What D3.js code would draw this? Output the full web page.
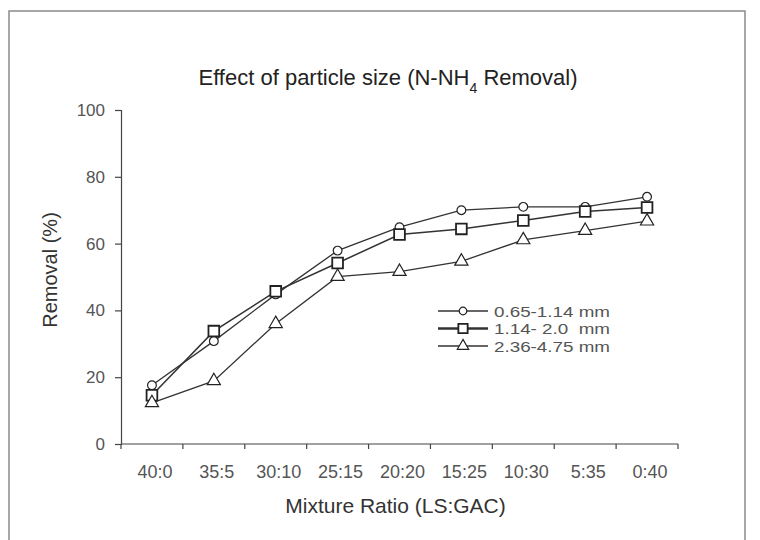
<!DOCTYPE html>
<html>
<head>
<meta charset="utf-8">
<script src="https://cdn.jsdelivr.net/npm/d3@7"></script>
<style>
  body { margin: 0; background: #fff; }
  #chart { width: 760px; height: 540px; }
  text { font-family: Arial, "Liberation Sans", sans-serif; }
</style>
</head>
<body>
<div id="chart"></div>
<script>
// Mixture ratios on the x axis
const ratios = ['40:0', '35:5', '30:10', '25:15', '20:20', '15:25', '10:30', '5:35', '0:40'];

// Removal (%) per particle size range
const fineValues   = [17.6, 30.8, 44.8, 57.9, 64.9, 70.0, 71.0, 71.0, 74.0];
const mediumValues = [14.6, 33.8, 45.7, 54.2, 62.7, 64.4, 66.9, 69.6, 70.8];
const coarseValues = [12.3, 18.9, 36.0, 50.1, 51.6, 54.7, 61.1, 63.9, 66.7];

const seriesNames = ['0.65-1.14 mm', '1.14- 2.0  mm', '2.36-4.75 mm'];
const yTicks = [0, 20, 40, 60, 80, 100];

const series = [
    { name: seriesNames[0], values: fineValues,   symbol: d3.symbolCircle,   size: 60,  lw: 1.3, mw: 1.2 },
    { name: seriesNames[1], values: mediumValues, symbol: d3.symbolSquare,   size: 115, lw: 1.5, mw: 1.8 },
    { name: seriesNames[2], values: coarseValues, symbol: d3.symbolTriangle, size: 75,  lw: 1.3, mw: 1.2 }
];

const margin = { top: 110, right: 82, bottom: 96, left: 121 };
const W = 760, H = 540;
const width = W - margin.left - margin.right;
const height = H - margin.top - margin.bottom;

const root = d3.select('#chart')
    .append('svg')
    .attr('width', W)
    .attr('height', H);

// Outer frame
root.append('rect')
    .attr('x', 9).attr('y', 11)
    .attr('width', 736).attr('height', 540)
    .attr('fill', 'none')
    .attr('stroke', '#8a8a8a')
    .attr('stroke-width', 1.5);

const svg = root.append('g')
    .attr('transform', `translate(${margin.left},${margin.top})`);

const xScale = d3.scaleBand()
    .domain(ratios)
    .range([0, width])
    .padding(0);

const yScale = d3.scaleLinear()
    .domain([0, 100])
    .range([height, 0]);

// X axis: ticks at band edges
const xAxis = svg.append('g')
    .attr('transform', `translate(0,${height})`);

xAxis.append('line')
    .attr('x1', 0).attr('x2', width)
    .attr('stroke', '#444').attr('stroke-width', 1.2);

const edges = ratios.map(r => xScale(r)).concat([width]);
xAxis.selectAll('.xtick')
    .data(edges)
    .enter()
    .append('line')
    .attr('x1', d => d).attr('x2', d => d)
    .attr('y1', 0).attr('y2', 5)
    .attr('stroke', '#444').attr('stroke-width', 1.2);

xAxis.selectAll('.xlabel')
    .data(ratios)
    .enter()
    .append('text')
    .attr('x', d => xScale(d) + xScale.bandwidth() / 2 + 3)
    .attr('y', 34)
    .attr('text-anchor', 'middle')
    .attr('fill', '#555')
    .style('font-size', '18px')
    .text(d => d);

// Y axis
svg.append('g')
    .call(d3.axisLeft(yScale).tickValues(yTicks).tickSize(6).tickPadding(10))
    .call(g => g.select('.domain').attr('stroke', '#444').attr('stroke-width', 1.2))
    .call(g => g.selectAll('.tick line').attr('stroke', '#444').attr('stroke-width', 1.2))
    .call(g => g.selectAll('.tick text')
        .attr('fill', '#555')
        .style('font-size', '17px')
        .style('font-family', 'Arial, "Liberation Sans", sans-serif'));

// Axis titles
svg.append('text')
    .attr('x', width / 2 - 4)
    .attr('y', height + 69)
    .attr('text-anchor', 'middle')
    .attr('fill', '#333')
    .style('font-size', '21px')
    .text('Mixture Ratio (LS:GAC)');

svg.append('text')
    .attr('transform', 'rotate(-90)')
    .attr('x', -160)
    .attr('y', -64)
    .attr('text-anchor', 'middle')
    .attr('fill', '#333')
    .style('font-size', '20px')
    .text('Removal (%)');

// Title with subscript
const title = root.append('text')
    .attr('x', 388)
    .attr('y', 85)
    .attr('text-anchor', 'middle')
    .attr('fill', '#222')
    .style('font-size', '22px');
title.append('tspan').text('Effect of particle size (N-NH');
title.append('tspan').attr('baseline-shift', 'sub').style('font-size', '14px').text('4');
title.append('tspan').text(' Removal)');

// Lines and markers
const line = d3.line()
    .x((d, i) => xScale(ratios[i]) + xScale.bandwidth() / 2)
    .y(d => yScale(d));

series.forEach(s => {
    svg.append('path')
        .datum(s.values)
        .attr('d', line)
        .attr('fill', 'none')
        .attr('stroke', '#333')
        .attr('stroke-width', s.lw);

    svg.selectAll(null)
        .data(s.values)
        .enter()
        .append('path')
        .attr('d', d3.symbol().type(s.symbol).size(s.size))
        .attr('transform', (d, i) => `translate(${xScale(ratios[i]) + xScale.bandwidth() / 2},${yScale(d)})`)
        .attr('fill', '#fff')
        .attr('stroke', '#222')
        .attr('stroke-width', s.mw);
});

// Legend
const legend = root.append('g')
    .attr('transform', 'translate(438,311)');

const rows = legend.selectAll('g')
    .data(series)
    .enter()
    .append('g')
    .attr('transform', (d, i) => `translate(0,${i * 17.5})`);

rows.append('line')
    .attr('x1', 0).attr('x2', 50)
    .attr('stroke', '#333')
    .attr('stroke-width', (d, i) => i === 1 ? 2.4 : 1.6);

rows.append('path')
    .attr('d', d => d3.symbol().type(d.symbol).size(d.size * 0.75)())
    .attr('transform', 'translate(25,0)')
    .attr('fill', '#fff')
    .attr('stroke', '#222')
    .attr('stroke-width', d => d.mw);

rows.append('text')
    .attr('x', 56)
    .attr('y', 5.5)
    .attr('fill', '#555')
    .style('font-size', '15px')
    .style('white-space', 'pre')
    .attr('textLength', 116)
    .attr('lengthAdjust', 'spacingAndGlyphs')
    .text(d => d.name);
</script>
</body>
</html>
